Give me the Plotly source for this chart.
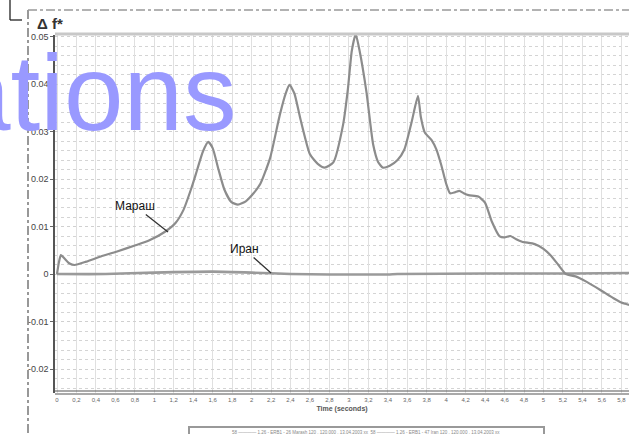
import plotly.graph_objects as go

# Мараш response (time in seconds, Δf*)
marash_t = [0.00, 0.02, 0.04, 0.08, 0.13, 0.18, 0.30, 0.45, 0.61, 0.80, 0.95, 1.11,
            1.22, 1.30, 1.38, 1.44, 1.50, 1.555, 1.60, 1.66, 1.72, 1.79, 1.86, 1.94,
            2.02, 2.09, 2.19, 2.29, 2.35, 2.39, 2.44, 2.50, 2.60, 2.68, 2.75, 2.84,
            2.94, 2.99, 3.03, 3.07, 3.11, 3.18, 3.25, 3.30, 3.35, 3.42, 3.50, 3.57,
            3.645, 3.71, 3.74, 3.78, 3.85, 3.90, 3.95, 4.00, 4.04, 4.09, 4.135, 4.18,
            4.23, 4.33, 4.40, 4.47, 4.55, 4.60, 4.66, 4.72, 4.78, 4.91, 5.00, 5.07,
            5.15, 5.23, 5.33, 5.44, 5.58, 5.72, 5.80, 5.88]
marash_v = [0.0000, 0.0025, 0.0040, 0.0032, 0.0022, 0.0019, 0.0026, 0.0037, 0.0047, 0.0060, 0.0071, 0.0089,
            0.0108, 0.0135, 0.0180, 0.0219, 0.0258, 0.0278, 0.0265, 0.0220, 0.0178, 0.0152, 0.0146, 0.0153,
            0.0170, 0.0190, 0.0244, 0.0335, 0.0380, 0.0398, 0.0380, 0.0328, 0.0252, 0.0232, 0.0224, 0.0235,
            0.0314, 0.0390, 0.0470, 0.0505, 0.0470, 0.0384, 0.0272, 0.0236, 0.0224, 0.0228, 0.0240, 0.0262,
            0.0320, 0.0375, 0.0330, 0.0298, 0.0282, 0.0262, 0.0229, 0.0190, 0.0170, 0.0172, 0.0175, 0.0170,
            0.0166, 0.0163, 0.0150, 0.0110, 0.0079, 0.0077, 0.0080, 0.0073, 0.0068, 0.0063, 0.0053, 0.0040,
            0.0020, 0.0000, -0.0005, -0.0016, -0.0033, -0.0051, -0.0060, -0.0065]

# Иран response
iran_t = [0.0, 0.5, 1.0, 1.6, 2.0, 2.4, 2.8, 3.4, 3.5, 4.4, 5.3, 5.88]
iran_v = [0.0, 0.0, 0.0003, 0.0005, 0.0003, 0.0, -0.0001, -0.0001, 0.0, 0.0001, 0.0001, 0.0002]

y_ticks = [0.05, 0.04, 0.03, 0.02, 0.01, 0.0, -0.01, -0.02]
y_labels = ["0.05", "0.04", "0.03", "0.02", "0.01", "0", "-0.01", "-0.02"]
x_ticks = [round(0.2 * i, 1) for i in range(30)]
x_labels = [("%g" % v).replace(".", ",") for v in x_ticks]

W, H = 629, 434
L, R, T, B = 55, 0, 35, 41


def px(xp):
    return (xp - L) / (W - L - R)


def py(yp):
    return (H - B - yp) / (H - T - B)


fig = go.Figure()
fig.add_trace(go.Scatter(x=iran_t, y=iran_v, mode="lines",
                         line=dict(color="#9a9a9a", width=2.6, shape="spline", smoothing=0.6),
                         showlegend=False, hoverinfo="skip"))
fig.add_trace(go.Scatter(x=marash_t, y=marash_v, mode="lines",
                         line=dict(color="#8c8c8c", width=2.2, shape="spline", smoothing=0.55),
                         showlegend=False, hoverinfo="skip"))

fig.update_layout(
    width=W, height=H,
    margin=dict(l=L, r=R, t=T, b=B, pad=0),
    paper_bgcolor="white", plot_bgcolor="white",
    font=dict(family="Liberation Sans, Arial, sans-serif", color="#444"),
    xaxis=dict(range=[-0.0206, 5.879], tickmode="array", tickvals=x_ticks, ticktext=x_labels,
               tickfont=dict(size=6, color="#666"), ticks="", ticklabelstandoff=2,
               showgrid=True, gridcolor="#e0e0e0", gridwidth=1.3, zeroline=False,
               showline=False,
               title=dict(text="<b>Time (seconds)</b>", font=dict(size=7, color="#555"), standoff=4)),
    yaxis=dict(range=[-0.02505, 0.05032], tickmode="array", tickvals=y_ticks, ticktext=y_labels,
               tickfont=dict(size=9, color="#444"), ticks="outside", ticklen=3, tickcolor="#666",
               showgrid=True, gridcolor="#d0d0d0", gridwidth=1, griddash="dot", zeroline=False,
               showline=True, linecolor="#555", linewidth=1.5,
               minor=dict(tickmode="linear", tick0=0, dtick=0.002, showgrid=True,
                          gridcolor="#d4d4d4", gridwidth=1, griddash="dot")),
)

shapes = [
    # top frame of the plotting area
    dict(type="line", xref="paper", yref="paper", x0=0, x1=1, y0=py(34), y1=py(34),
         line=dict(color="#c8c8c8", width=3)),
    # double bottom axis line
    dict(type="line", xref="paper", yref="paper", x0=0, x1=1, y0=py(391), y1=py(391),
         line=dict(color="#555", width=1.2)),
    dict(type="line", xref="paper", yref="paper", x0=0, x1=1, y0=py(394), y1=py(394),
         line=dict(color="#555", width=1.2)),
    # outer dashed frame
    dict(type="line", xref="paper", yref="paper", x0=px(28), x1=px(28), y0=py(10), y1=py(434),
         line=dict(color="#777", width=1.5, dash="dashdot")),
    dict(type="line", xref="paper", yref="paper", x0=px(28), x1=px(629), y0=py(10), y1=py(10),
         line=dict(color="#999", width=1.5, dash="dashdot")),
    # corner bracket
    dict(type="line", xref="paper", yref="paper", x0=px(10), x1=px(10), y0=py(0), y1=py(20),
         line=dict(color="#222", width=1.3)),
    dict(type="line", xref="paper", yref="paper", x0=px(10), x1=px(22), y0=py(20), y1=py(20),
         line=dict(color="#222", width=1.3)),
    # legend box
    dict(type="rect", xref="paper", yref="paper", x0=px(189), x1=px(544), y0=py(427), y1=py(438),
         line=dict(color="#999", width=2), fillcolor="white"),
]
fig.update_layout(shapes=shapes)

annotations = [
    dict(text="<b>Δ f*</b>", xref="paper", yref="paper", x=px(50), y=py(23.5),
         xanchor="center", yanchor="middle", showarrow=False, font=dict(size=15, color="#333")),
    dict(text="Мараш", x=1.141, y=0.00884, xref="x", yref="y", ax=-33, ay=-26,
         showarrow=True, arrowhead=0, arrowwidth=1.3, arrowcolor="#333", standoff=0,
         font=dict(family="Liberation Sans Narrow, Liberation Sans", size=12, color="#111")),
    dict(text="Иран", x=2.20, y=0.0002, xref="x", yref="y", ax=-27, ay=-24,
         showarrow=True, arrowhead=0, arrowwidth=1.3, arrowcolor="#333", standoff=0,
         font=dict(family="Liberation Sans Narrow, Liberation Sans", size=12, color="#111")),
    dict(text="58 ———— 1,26 - ERB1 - 26 Marash 120 . 120.000 . 13.04.2003 xx  58 ———— 1,26 - ERB1 - 47 Iran 120 . 120.000 . 13.04.2003 xx",
         xref="paper", yref="paper", x=px(366), y=py(432), xanchor="center", yanchor="middle",
         showarrow=False, font=dict(size=4.5, color="#888")),
    dict(text="ations", xref="paper", yref="paper", x=px(239), y=py(93),
         xanchor="right", yanchor="middle", showarrow=False,
         font=dict(family="Liberation Sans, Arial", size=107, color="#9999ff")),
]
fig.update_layout(annotations=annotations)

fig.write_html("out.html")
